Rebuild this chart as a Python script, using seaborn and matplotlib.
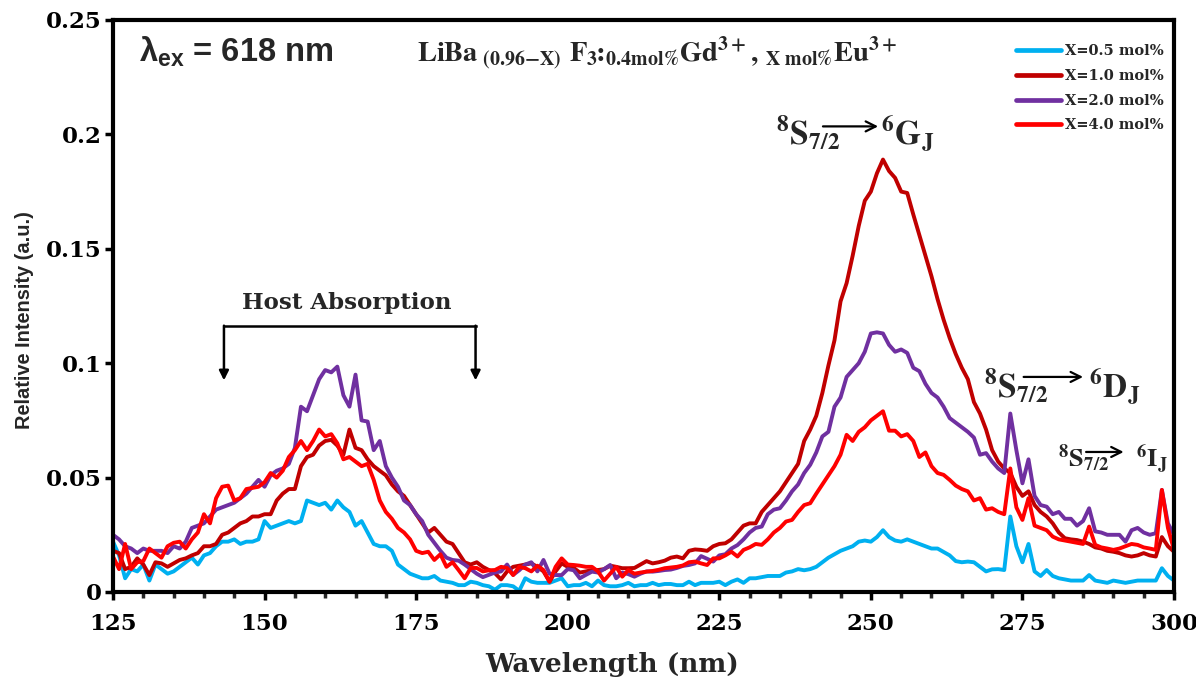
import numpy as np
import pandas as pd
import matplotlib
matplotlib.use("Agg")
import matplotlib.pyplot as plt
from matplotlib import font_manager
from matplotlib.lines import Line2D
from matplotlib.ticker import MultipleLocator, FuncFormatter
import seaborn as sns

# Excitation spectra (lambda_em = 618 nm), 1 nm steps from 125 to 300 nm
wavelength = np.arange(125, 301)

x05 = [0.022, 0.016, 0.006, 0.010, 0.009, 0.012, 0.005, 0.012, 0.010, 0.008,
       0.009, 0.011, 0.013, 0.015, 0.012, 0.016, 0.017, 0.020, 0.022, 0.022,
       0.023, 0.021, 0.022, 0.022, 0.023, 0.031, 0.028, 0.029, 0.030, 0.031,
       0.030, 0.031, 0.040, 0.039, 0.038, 0.039, 0.036, 0.040, 0.037, 0.035,
       0.029, 0.031, 0.026, 0.021, 0.020, 0.020, 0.018, 0.012, 0.010, 0.008,
       0.007, 0.006, 0.006, 0.007, 0.005, 0.0045, 0.004, 0.003, 0.003, 0.0045,
       0.004, 0.003, 0.0025, 0.001, 0.003, 0.003, 0.0025, 0.0005, 0.006, 0.0045,
       0.004, 0.004, 0.004, 0.005, 0.006, 0.0025, 0.003, 0.003, 0.004, 0.0025,
       0.005, 0.003, 0.0025, 0.0025, 0.003, 0.004, 0.0025, 0.003, 0.003, 0.004,
       0.003, 0.0035, 0.0035, 0.003, 0.003, 0.0045, 0.003, 0.004, 0.004, 0.004,
       0.0045, 0.003, 0.0045, 0.0055, 0.004, 0.006, 0.006, 0.0065, 0.007, 0.007,
       0.007, 0.0085, 0.009, 0.010, 0.0095, 0.010, 0.011, 0.013, 0.015, 0.0165,
       0.018, 0.019, 0.020, 0.022, 0.0225, 0.022, 0.024, 0.027, 0.024, 0.0225,
       0.022, 0.023, 0.022, 0.021, 0.020, 0.019, 0.019, 0.0175, 0.016, 0.0135,
       0.013, 0.0133, 0.013, 0.011, 0.009, 0.0099, 0.010, 0.0096, 0.033, 0.020,
       0.013, 0.021, 0.009, 0.007, 0.0096, 0.007, 0.006, 0.0055, 0.005, 0.005,
       0.005, 0.0074, 0.005, 0.0045, 0.004, 0.005, 0.0045, 0.004, 0.0045, 0.005,
       0.005, 0.005, 0.005, 0.0104, 0.007, 0.005]

x10 = [0.018, 0.017, 0.010, 0.011, 0.0147, 0.012, 0.0074, 0.013, 0.0125, 0.011,
       0.0125, 0.014, 0.0147, 0.016, 0.017, 0.020, 0.020, 0.021, 0.025, 0.026,
       0.028, 0.030, 0.031, 0.033, 0.033, 0.034, 0.034, 0.040, 0.043, 0.045,
       0.045, 0.055, 0.059, 0.060, 0.064, 0.066, 0.0665, 0.064, 0.060, 0.071,
       0.063, 0.062, 0.058, 0.055, 0.053, 0.051, 0.047, 0.044, 0.042, 0.038,
       0.034, 0.030, 0.026, 0.028, 0.025, 0.022, 0.021, 0.017, 0.013, 0.012,
       0.013, 0.011, 0.0096, 0.0082, 0.0055, 0.009, 0.011, 0.0115, 0.012, 0.0125,
       0.011, 0.009, 0.0045, 0.009, 0.0125, 0.011, 0.0105, 0.0085, 0.009, 0.0096,
       0.0096, 0.010, 0.0115, 0.011, 0.0104, 0.0104, 0.0105, 0.012, 0.0135, 0.0125,
       0.013, 0.0137, 0.015, 0.0155, 0.0147, 0.018, 0.0186, 0.0184, 0.018, 0.020,
       0.021, 0.0213, 0.023, 0.026, 0.029, 0.030, 0.030, 0.035, 0.038, 0.041,
       0.044, 0.048, 0.052, 0.056, 0.066, 0.071, 0.077, 0.087, 0.099, 0.110,
       0.127, 0.135, 0.147, 0.160, 0.171, 0.175, 0.183, 0.189, 0.184, 0.181,
       0.175, 0.1744, 0.165, 0.156, 0.147, 0.138, 0.128, 0.119, 0.111, 0.104,
       0.098, 0.093, 0.083, 0.078, 0.071, 0.062, 0.057, 0.054, 0.052, 0.046,
       0.042, 0.044, 0.038, 0.035, 0.033, 0.030, 0.026, 0.0235, 0.023, 0.0227,
       0.022, 0.021, 0.0195, 0.019, 0.018, 0.0176, 0.017, 0.016, 0.0155, 0.016,
       0.017, 0.016, 0.0155, 0.024, 0.020, 0.0176]

x20 = [0.025, 0.023, 0.020, 0.019, 0.017, 0.019, 0.018, 0.018, 0.018, 0.017,
       0.020, 0.019, 0.022, 0.028, 0.029, 0.030, 0.033, 0.036, 0.037, 0.038,
       0.039, 0.041, 0.043, 0.046, 0.049, 0.046, 0.051, 0.053, 0.054, 0.056,
       0.063, 0.081, 0.079, 0.086, 0.093, 0.097, 0.096, 0.0985, 0.086, 0.081,
       0.095, 0.075, 0.0745, 0.062, 0.066, 0.055, 0.050, 0.046, 0.040, 0.038,
       0.034, 0.031, 0.025, 0.0215, 0.018, 0.015, 0.014, 0.0137, 0.012, 0.010,
       0.008, 0.0065, 0.0075, 0.0085, 0.009, 0.012, 0.0075, 0.0095, 0.012, 0.013,
       0.009, 0.014, 0.008, 0.0074, 0.0074, 0.010, 0.0095, 0.006, 0.0075, 0.0089,
       0.0085, 0.010, 0.0118, 0.006, 0.0085, 0.0078, 0.0067, 0.008, 0.009, 0.0089,
       0.0092, 0.0096, 0.0098, 0.0105, 0.0114, 0.0118, 0.0125, 0.0157, 0.0145, 0.0133,
       0.016, 0.0165, 0.019, 0.0205, 0.023, 0.026, 0.028, 0.0286, 0.034, 0.036,
       0.0366, 0.040, 0.044, 0.047, 0.052, 0.0556, 0.061, 0.068, 0.070, 0.081,
       0.085, 0.094, 0.097, 0.100, 0.105, 0.113, 0.1135, 0.113, 0.108, 0.105,
       0.106, 0.1045, 0.098, 0.0965, 0.091, 0.087, 0.085, 0.081, 0.076, 0.074,
       0.072, 0.070, 0.0675, 0.060, 0.0607, 0.057, 0.054, 0.052, 0.078, 0.062,
       0.0475, 0.058, 0.042, 0.038, 0.0373, 0.034, 0.035, 0.032, 0.032, 0.029,
       0.031, 0.0366, 0.0265, 0.026, 0.025, 0.025, 0.025, 0.022, 0.027, 0.028,
       0.026, 0.025, 0.0257, 0.0446, 0.030, 0.025]

x40 = [0.0155, 0.010, 0.021, 0.010, 0.013, 0.0135, 0.019, 0.017, 0.015, 0.020,
       0.0215, 0.022, 0.019, 0.023, 0.026, 0.034, 0.030, 0.041, 0.046, 0.0465,
       0.040, 0.041, 0.045, 0.0455, 0.046, 0.048, 0.052, 0.050, 0.053, 0.059,
       0.062, 0.066, 0.062, 0.066, 0.071, 0.068, 0.069, 0.065, 0.058, 0.059,
       0.057, 0.055, 0.056, 0.049, 0.040, 0.035, 0.032, 0.028, 0.026, 0.023,
       0.018, 0.017, 0.0176, 0.014, 0.0165, 0.011, 0.013, 0.0096, 0.006, 0.0105,
       0.0105, 0.009, 0.0095, 0.0096, 0.011, 0.0105, 0.0074, 0.011, 0.0104, 0.009,
       0.0115, 0.0096, 0.0045, 0.011, 0.0147, 0.012, 0.0118, 0.0115, 0.011, 0.011,
       0.009, 0.005, 0.008, 0.011, 0.0067, 0.0096, 0.008, 0.0085, 0.0089, 0.0092,
       0.0097, 0.0104, 0.0107, 0.011, 0.0116, 0.013, 0.0133, 0.0125, 0.0118, 0.0147,
       0.0147, 0.016, 0.0176, 0.0155, 0.0184, 0.0195, 0.021, 0.0206, 0.023, 0.026,
       0.028, 0.0308, 0.0315, 0.035, 0.038, 0.0388, 0.043, 0.047, 0.051, 0.055,
       0.060, 0.0687, 0.066, 0.070, 0.072, 0.075, 0.077, 0.079, 0.0705, 0.0705,
       0.068, 0.069, 0.066, 0.059, 0.061, 0.055, 0.052, 0.0512, 0.049, 0.0465,
       0.045, 0.044, 0.040, 0.041, 0.036, 0.0366, 0.035, 0.034, 0.054, 0.037,
       0.0315, 0.041, 0.029, 0.028, 0.027, 0.0242, 0.023, 0.0225, 0.022, 0.0215,
       0.021, 0.0286, 0.0206, 0.0195, 0.019, 0.0184, 0.019, 0.020, 0.021, 0.0206,
       0.0195, 0.019, 0.0184, 0.0446, 0.028, 0.0184]

series_labels = ["X=0.5 mol%", "X=1.0 mol%", "X=2.0 mol%", "X=4.0 mol%"]
series_values = [x05, x10, x20, x40]
series_colors = ["#00B0F0", "#C00000", "#7030A0", "#FF0000"]

x_ticks = [125, 150, 175, 200, 225, 250, 275, 300]
y_ticks = [0, 0.05, 0.1, 0.15, 0.2, 0.25]

# long-form table for seaborn
frames = []
for label, vals in zip(series_labels, series_values):
    frames.append(pd.DataFrame({"Wavelength": wavelength, "Intensity": vals, "Sample": label}))
df = pd.concat(frames, ignore_index=True)

sns.set_style("ticks")
installed = {f.name for f in font_manager.fontManager.ttflist}
narrow = "Liberation Sans Narrow" if "Liberation Sans Narrow" in installed else "Liberation Sans"
plt.rcParams["font.family"] = ["DejaVu Serif"]
plt.rcParams["font.weight"] = "bold"
plt.rcParams["mathtext.fontset"] = "stix"
plt.rcParams["mathtext.bf"] = narrow + ":bold"
plt.rcParams["mathtext.rm"] = narrow + ":bold"
plt.rcParams["mathtext.it"] = narrow + ":bold"

fig = plt.figure(figsize=(11.96, 6.77), dpi=100)
fig.patch.set_facecolor("white")
ax = fig.add_axes([113 / 1196, 85 / 677, 1061 / 1196, 572 / 677])

sns.lineplot(data=df, x="Wavelength", y="Intensity", hue="Sample",
             hue_order=series_labels, palette=dict(zip(series_labels, series_colors)),
             linewidth=2.8, ax=ax, legend=False)

ax.set_xlim(125, 300)
ax.set_ylim(0, 0.25)
ax.set_xticks(x_ticks)
ax.set_yticks(y_ticks)
ax.xaxis.set_minor_locator(MultipleLocator(5))
ax.yaxis.set_major_formatter(FuncFormatter(lambda v, p: f"{v:g}"))

for side in ["left", "right", "top", "bottom"]:
    ax.spines[side].set_visible(True)
    ax.spines[side].set_linewidth(3.0)
    ax.spines[side].set_color("black")

ax.tick_params(axis="both", which="major", direction="out", length=6, width=2.5,
               labelsize=16.5, colors="black")
ax.tick_params(axis="x", which="major", pad=9)
ax.tick_params(axis="y", which="major", pad=2)
ax.tick_params(axis="x", which="minor", direction="out", length=4, width=2.5)
ax.tick_params(axis="y", which="minor", length=0)
ax.tick_params(top=False, right=False)

ax.set_xlabel("Wavelength (nm)", fontsize=19, fontweight="bold")
ax.xaxis.set_label_coords(0.470, -0.105)
ax.set_ylabel("Relative Intensity (a.u.)", fontsize=14.4, fontweight="bold", family=narrow)
ax.yaxis.set_label_coords(-0.074, 0.476)

# legend
handles = [Line2D([0], [0], color=c, lw=3.4) for c in series_colors]
ax.legend(handles, series_labels, loc="upper left", bbox_to_anchor=(0.851, 0.958),
          frameon=False, prop={"family": "DejaVu Serif", "weight": "bold", "size": 10.5},
          handlelength=3.1, handletextpad=0.3, labelspacing=0.74, borderpad=0, borderaxespad=0)

# header texts
ax.text(129.3, 0.2318, r"$\mathbf{λ_{ex}}$ = 618 nm", fontsize=23.5, fontweight="bold",
        family=narrow, math_fontfamily="custom", va="baseline", ha="left")
ax.text(175.1, 0.2318,
        r"$\mathbf{LiBa}_{\mathbf{\ (0.96{-}X)}}\ \mathbf{F}_{\mathbf{3}}\!\!\mathbf{:}\!_{\mathbf{0.4mol\%}}"
        r"\mathbf{Gd}^{\mathbf{3+}}\mathbf{,}\ {}_{\mathbf{X\ mol\%}}\mathbf{Eu}^{\mathbf{3+}}$",
        fontsize=20.5, math_fontfamily="stix", va="baseline", ha="left")

# host absorption bracket
bx0, bx1, by_top, by_tip = 143.3, 184.8, 0.1164, 0.0925
ax.plot([bx0, bx1], [by_top, by_top], color="black", lw=1.8, solid_capstyle="projecting")
for bx in (bx0, bx1):
    ax.annotate("", xy=(bx, by_tip), xytext=(bx, by_top),
                arrowprops=dict(arrowstyle="-|>", color="black", lw=1.8, mutation_scale=14,
                                shrinkA=0, shrinkB=0))
ax.text(163.5, 0.1235, "Host Absorption", fontsize=16.5, fontweight="bold",
        ha="center", va="baseline")


def transition(x_s, x_f, y, arrow_y, arrow_x0, arrow_x1, final, size):
    ax.text(x_s, y, r"$\mathbf{{}^{8}S_{7/2}}$", fontsize=size, math_fontfamily="stix",
            va="baseline", ha="left")
    ax.text(x_f, y, final, fontsize=size, math_fontfamily="stix", va="baseline", ha="left")
    ax.annotate("", xy=(arrow_x1, arrow_y), xytext=(arrow_x0, arrow_y),
                arrowprops=dict(arrowstyle="->", color="black", lw=1.6, mutation_scale=18,
                                shrinkA=0, shrinkB=0))


transition(234.4, 251.7, 0.1955, 0.2035, 242.1, 251.2, r"$\mathbf{{}^{6}G_{J}}$", 24)
transition(268.7, 286.0, 0.0853, 0.0940, 275.2, 285.0, r"$\mathbf{{}^{6}D_{J}}$", 24)
transition(280.8, 293.7, 0.0545, 0.0612, 285.5, 291.7, r"$\mathbf{{}^{6}I_{J}}$", 19)

fig.savefig("out.png", dpi=100, facecolor="white")
